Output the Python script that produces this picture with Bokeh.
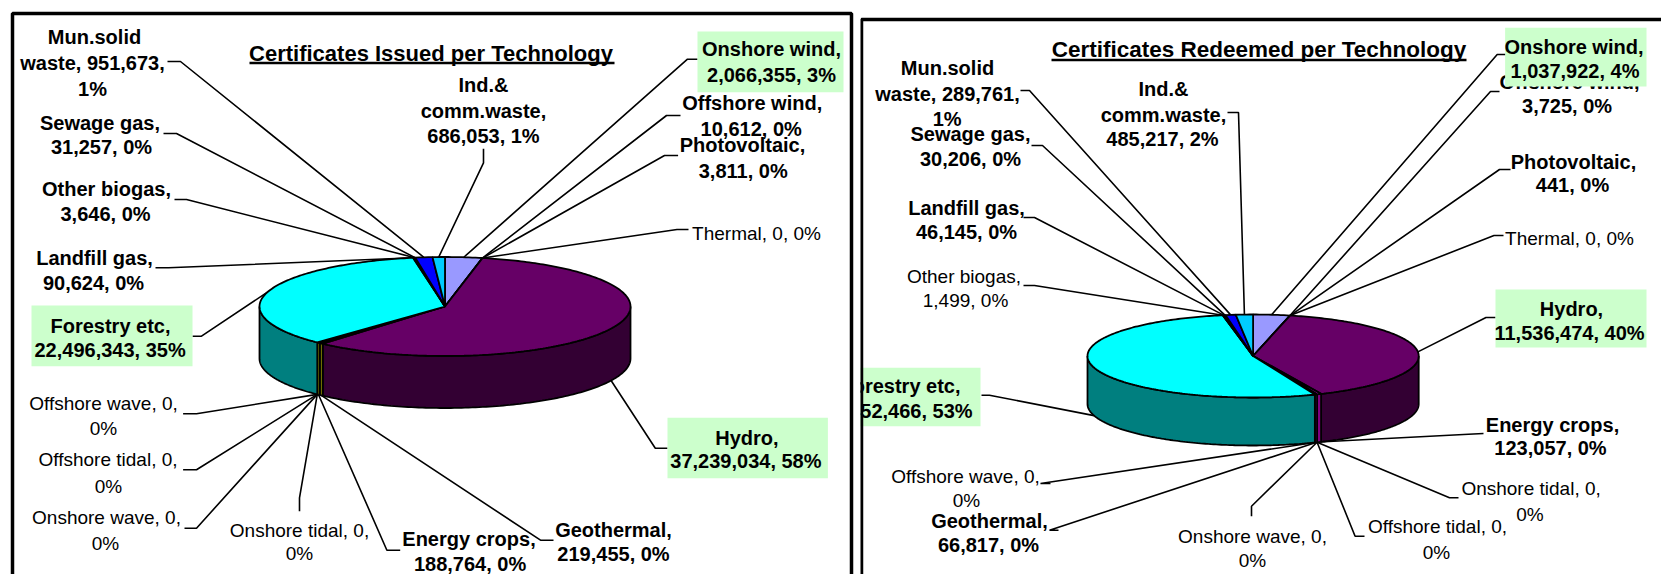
import numpy as np
from bokeh.plotting import figure
from bokeh.layouts import row
from bokeh.models import Range1d
from bokeh.core.properties import value
from bokeh.embed import file_html
from bokeh.resources import INLINE

# ---------- data ----------
issued_names = ["Onshore wind", "Offshore wind", "Photovoltaic", "Thermal", "Hydro", "Geothermal",
                "Energy crops", "Onshore tidal", "Onshore wave", "Offshore tidal", "Offshore wave",
                "Forestry etc", "Landfill gas", "Other biogas", "Sewage gas", "Mun.solid waste",
                "Ind.& comm.waste"]
issued_values = [2066355, 10612, 3811, 0, 37239034, 219455, 188764, 0, 0, 0, 0,
                 22496343, 90624, 3646, 31257, 951673, 686053]

redeemed_names = ["Onshore wind", "Offshore wind", "Photovoltaic", "Thermal", "Hydro", "Energy crops",
                  "Onshore tidal", "Offshore tidal", "Onshore wave", "Geothermal", "Offshore wave",
                  "Forestry etc", "Other biogas", "Landfill gas", "Sewage gas", "Mun.solid waste",
                  "Ind.& comm.waste"]
redeemed_values = [1037922, 3725, 441, 0, 11536474, 123057, 0, 0, 0, 66817, 0,
                   15452466, 1499, 46145, 30206, 289761, 485217]

# ---------- styles ----------
colors = {"Onshore wind": "#9999FF", "Offshore wind": "#993366", "Photovoltaic": "#FFFFCC", "Thermal": "#CCFFFF",
          "Hydro": "#660066", "Geothermal": "#FFFF00", "Energy crops": "#FFFF00", "Onshore tidal": "#CCCCFF",
          "Onshore wave": "#000080", "Offshore tidal": "#FF00FF", "Offshore wave": "#FFFF00",
          "Forestry etc": "#00FFFF", "Landfill gas": "#800080", "Other biogas": "#800000",
          "Sewage gas": "#008080", "Mun.solid waste": "#0000FF", "Ind.& comm.waste": "#00CCFF"}
redeemed_colors = dict(colors, **{"Geothermal": "#FF00FF", "Energy crops": "#FF00FF"})
FONT = "Liberation Sans"
BOX = "#CCFFCC"

# name: (lines [(text, cx, y)], bold, leader start, leader knee, box or None)
issued_labels = {
    "Mun.solid waste": ([("Mun.solid", 94, 36), ("waste, 951,673,", 92, 62), ("1%", 92, 88)], True, (167, 61), (180, 61), None),
    "Sewage gas": ([("Sewage gas,", 99.5, 122.7), ("31,257, 0%", 101, 146)], True, (163, 133), (176, 133), None),
    "Other biogas": ([("Other biogas,", 106, 188.3), ("3,646, 0%", 105, 213)], True, (174, 199), (186, 199), None),
    "Landfill gas": ([("Landfill gas,", 94, 257.7), ("90,624, 0%", 93, 282.7)], True, (155, 267.3), (168, 267.3), None),
    "Forestry etc": ([("Forestry etc,", 110, 325.7), ("22,496,343, 35%", 109.6, 349)], True, (192, 335.7), (201, 335.7), (31, 192, 305, 365.7)),
    "Hydro": ([("Hydro,", 746.4, 437.3), ("37,239,034, 58%", 745.4, 460.7)], True, (667, 447.7), (654.8, 447.7), (667, 827.4, 417.3, 477.7)),
    "Onshore wind": ([("Onshore wind,", 771, 48.3), ("2,066,355, 3%", 771, 74)], True, (697, 58.7), (687, 58.7), (697, 843, 31, 91.7)),
    "Offshore wind": ([("Offshore wind,", 751.7, 102.3), ("10,612, 0%", 750.7, 128.3)], True, (680, 115), (666, 115), None),
    "Photovoltaic": ([("Photovoltaic,", 742, 144.3), ("3,811, 0%", 742.7, 170)], True, (677.6, 155), (664, 155), None),
    "Thermal": ([("Thermal, 0, 0%", 756, 233.3)], False, (688, 229), (676.5, 229), None),
    "Ind.& comm.waste": ([("Ind.&", 483, 84), ("comm.waste,", 483, 110.7), ("686,053, 1%", 483, 135)], True, (483, 148.3), (483, 162.3), None),
    "Offshore wave": ([("Offshore wave, 0,", 103, 403.3), ("0%", 103, 427.7)], False, (182.6, 413.3), (196, 413.3), None),
    "Offshore tidal": ([("Offshore tidal, 0,", 107.5, 459), ("0%", 108, 485.7)], False, (182.6, 469.3), (196, 469.3), None),
    "Onshore wave": ([("Onshore wave, 0,", 106, 517.3), ("0%", 105, 543.3)], False, (184, 527.7), (196, 527.7), None),
    "Onshore tidal": ([("Onshore tidal, 0,", 299, 529.7), ("0%", 299, 553.3)], False, (299, 510.7), (299, 497.3), None),
    "Energy crops": ([("Energy crops,", 468.5, 538), ("188,764, 0%", 469.6, 563.3)], True, (399.7, 549.7), (386.4, 549.7), None),
    "Geothermal": ([("Geothermal,", 613, 529.7), ("219,455, 0%", 613, 553.3)], True, (553, 539.7), (540, 539.7), None),
}
redeemed_labels = {
    "Mun.solid waste": ([("Mun.solid", 947, 67.5), ("waste, 289,761,", 947, 93.5), ("1%", 946.6, 118.5)], True, (1020, 90), (1029, 90), None),
    "Sewage gas": ([("Sewage gas,", 970, 133.5), ("30,206, 0%", 970, 158)], True, (1031, 145), (1042, 145), None),
    "Ind.& comm.waste": ([("Ind.&", 1163, 88), ("comm.waste,", 1163, 114), ("485,217, 2%", 1162, 138)], True, (1227, 112), (1238, 112), None),
    "Landfill gas": ([("Landfill gas,", 966, 207), ("46,145, 0%", 966, 231)], True, (1023, 217), (1034, 217), None),
    "Other biogas": ([("Other biogas,", 963.5, 276), ("1,499, 0%", 965, 300)], False, (1023, 285), (1034, 285), None),
    "Onshore wind": ([("Onshore wind,", 1573.5, 46.7), ("1,037,922, 4%", 1574.5, 70.7)], True, (1507, 54), (1496.7, 54), (1504.6, 1646, 27.3, 86)),
    "Offshore wind": ([("Offshore wind,", 1569, 81), ("3,725, 0%", 1566.6, 105)], True, (1499, 91), (1490, 91), None),
    "Photovoltaic": ([("Photovoltaic,", 1573, 161), ("441, 0%", 1572, 184)], True, (1510, 169), (1499, 169), None),
    "Thermal": ([("Thermal, 0, 0%", 1569, 238)], False, (1503, 235), (1493.5, 235), None),
    "Hydro": ([("Hydro,", 1571, 308), ("11,536,474, 40%", 1569, 332)], True, (1495, 317), (1485.5, 317), (1495, 1646, 289, 347)),
    "Forestry etc": ([("Forestry etc,", 900, 385.7), ("15,452,466, 53%", 896.5, 410)], True, (981, 394.7), (989, 394.7), (820, 980, 367.3, 425.7)),
    "Energy crops": ([("Energy crops,", 1552, 424), ("123,057, 0%", 1550, 447.7)], True, (1483, 433), (1468, 433.7), None),
    "Onshore tidal": ([("Onshore tidal, 0,", 1530.6, 488), ("0%", 1529.5, 513.7)], False, (1458, 497.3), (1449, 497.3), None),
    "Offshore tidal": ([("Offshore tidal, 0,", 1437, 525.7), ("0%", 1436, 551.7)], False, (1364, 535.7), (1354.6, 535.7), None),
    "Onshore wave": ([("Onshore wave, 0,", 1252, 535.7), ("0%", 1252, 560)], False, (1251, 515.7), (1251, 505.7), None),
    "Geothermal": ([("Geothermal,", 989, 520), ("66,817, 0%", 988, 544)], True, (1058, 529.7), (1049, 529.7), None),
    "Offshore wave": ([("Offshore wave, 0,", 965, 476), ("0%", 966, 500)], False, (1050, 483), (1040, 483), None),
}

W1, W2, H = 860, 801, 574


def shade(hex_color):
    r, g, b = [int(hex_color[i:i + 2], 16) // 2 for i in (1, 3, 5)]
    return f"#{r:02x}{g:02x}{b:02x}"


def make_fig(x0, w):
    return figure(width=w, height=H, x_range=Range1d(x0, x0 + w), y_range=Range1d(H, 0),
                  x_axis_type=None, y_axis_type=None, toolbar_location=None, output_backend="svg",
                  min_border=0, outline_line_color=None, border_fill_color="white", background_fill_color="white")


def draw_panel(p, names, values, labels, cols, cx, cy, rx, ry, depth, title, title_size, title_x, title_y, under_y, under, frame_xs, frame_ys):
    vals = np.array(values, float)
    edges = np.concatenate([[0], np.cumsum(vals)]) / vals.sum() * 2 * np.pi
    ex = lambda t: cx + rx * np.sin(t)
    ey = lambda t: cy - ry * np.cos(t)
    # leaders go under the pie's outline ends
    for i, n in enumerate(names):
        lines, bold, start, knee, box = labels[n]
        m = (edges[i] + edges[i + 1]) / 2
        ax, ay = ex(m), ey(m)
        if np.cos(m) < 0:
            ay += depth
        p.line([start[0], knee[0], ax], [start[1], knee[1], ay], line_color="black", line_width=1.6)
    # sides
    for i, n in enumerate(names):
        a, b = max(edges[i], np.pi / 2), min(edges[i + 1], 1.5 * np.pi)
        if b <= a:
            continue
        t = np.linspace(a, b, 120)
        xs = np.concatenate([ex(t), ex(t[::-1])])
        ys = np.concatenate([ey(t), ey(t[::-1]) + depth])
        p.patch(xs, ys, fill_color=shade(cols[n]), line_color="black", line_width=1.8)
    # tops
    for i, n in enumerate(names):
        if vals[i] == 0:
            continue
        t = np.linspace(edges[i], edges[i + 1], max(3, int((edges[i + 1] - edges[i]) * 60)))
        xs = np.concatenate([[cx], ex(t)])
        ys = np.concatenate([[cy], ey(t)])
        p.patch(xs, ys, fill_color=cols[n], line_color="black", line_width=1.8)

    def put(lines, bold):
        p.text([l[1] for l in lines], [l[2] for l in lines], text=[l[0] for l in lines],
               text_font=value(FONT), text_font_size="20px" if bold else "19px",
               text_font_style="bold" if bold else "normal",
               text_align="center", text_baseline="middle", text_color="black")

    for n in names:
        lines, bold, start, knee, box = labels[n]
        if box is None:
            put(lines, bold)
    for n in names:
        lines, bold, start, knee, box = labels[n]
        if box is not None:
            p.quad(left=[box[0]], right=[box[1]], top=[box[2]], bottom=[box[3]], fill_color=BOX, line_color=None)
            put(lines, bold)
    p.text([title_x], [title_y], text=[title], text_font=value(FONT), text_font_size=title_size, text_font_style="bold",
           text_align="center", text_baseline="middle", text_color="black")
    p.line(list(under), [under_y, under_y], line_color="black", line_width=2.5)
    p.line(frame_xs, frame_ys, line_color="black", line_width=3.5)


p1 = make_fig(0, W1)
draw_panel(p1, issued_names, issued_values, issued_labels, colors, 444.5, 306, 185.5, 49.5, 52,
           "Certificates Issued per Technology", "22px", 430.5, 53, 62.5, (249, 614),
           [12, 12, 851, 851], [574, 13, 13, 574])
p2 = make_fig(860, W2)
draw_panel(p2, redeemed_names, redeemed_values, redeemed_labels, redeemed_colors, 1252.6, 355.5, 165.6, 41.5, 48,
           "Certificates Redeemed per Technology", "22.5px", 1258.5, 49, 59.5, (1051, 1466),
           [861, 861, 1661], [574, 19, 19])

layout = row(p1, p2, spacing=0)
open("out.html", "w").write(file_html(layout, INLINE))
